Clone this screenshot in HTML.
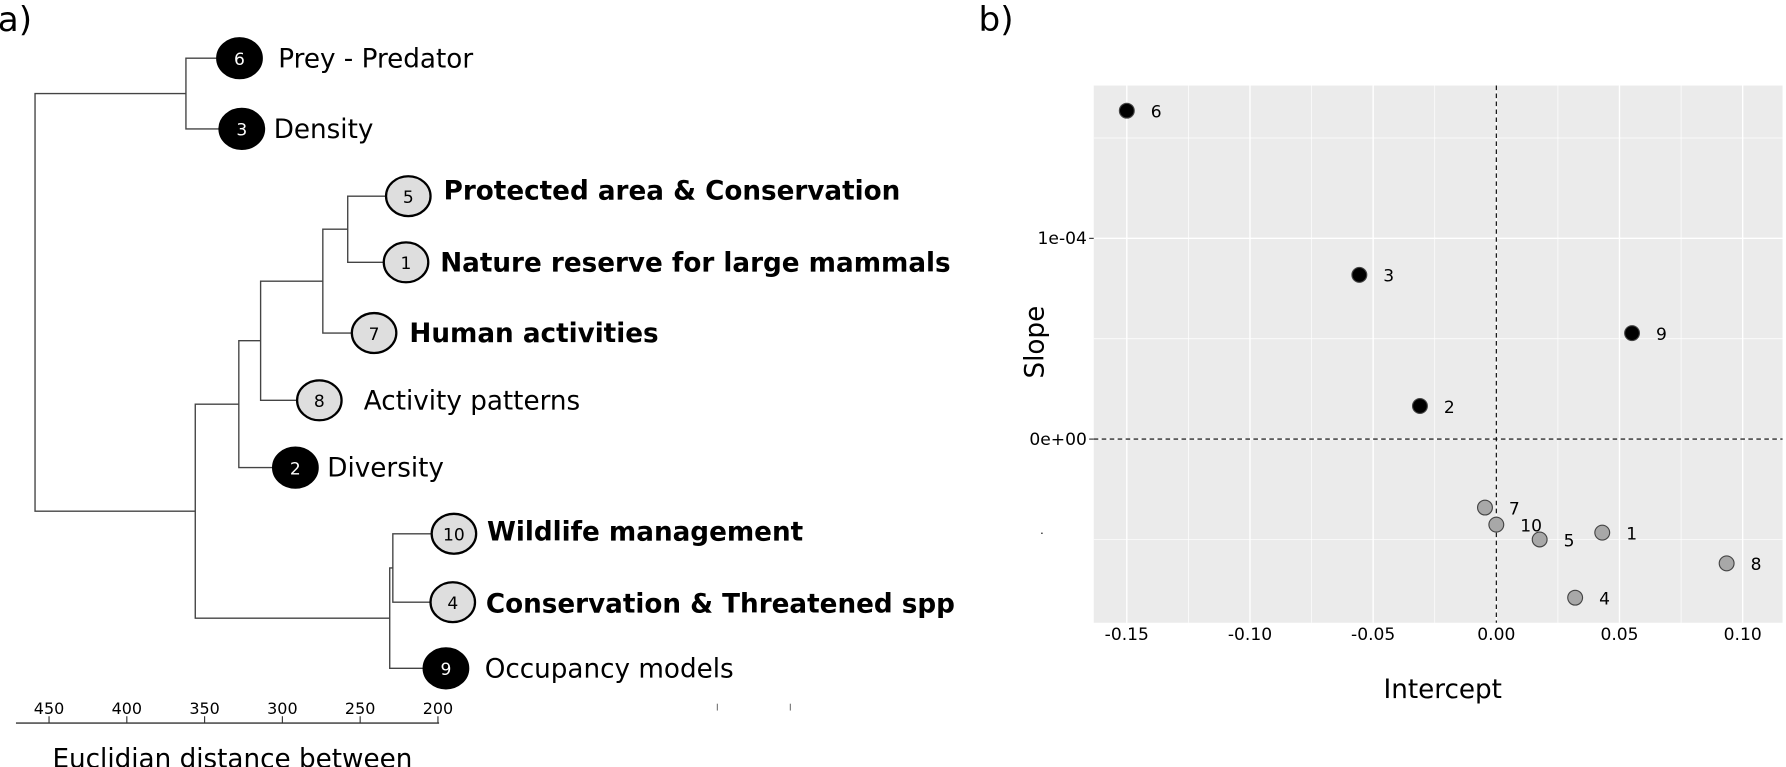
<!DOCTYPE html>
<html><head><meta charset="utf-8"><style>
html,body{margin:0;padding:0;background:#fff;}
svg{display:block;font-family:"DejaVu Sans","Liberation Sans",sans-serif;}
</style></head><body>
<svg id="fig" width="1786" height="767" viewBox="0 0 1566 672.5" preserveAspectRatio="none">
<text x="-2" y="27" font-size="30">a)</text>
<text x="858" y="27" font-size="30">b)</text>
<g id="dendro"></g>
<g id="scatter"></g>
</svg>
<script>
const NS="http://www.w3.org/2000/svg";
// Dendrogram data
const leafIds=["6","3","5","1","7","8","2","10","4","9"];
const leafNames=["Prey - Predator","Density","Protected area & Conservation","Nature reserve for large mammals","Human activities","Activity patterns","Diversity","Wildlife management","Conservation & Threatened spp","Occupancy models"];
const leafBold=[0,0,1,1,1,0,0,1,1,0];
const leafDark=[1,1,0,0,0,0,1,0,0,1];
// merges: [a,b,height] where indexes >=10 refer to earlier merges (10 = first merge)
const merges=[[0,1,362],[2,3,258],[11,4,274],[12,5,314],[13,6,328],[7,8,229],[15,9,231],[14,16,356],[10,17,459]];
const distTicks=[450,400,350,300,250,200];
// Scatter data
const ptIds=["6","3","9","2","7","10","5","1","8","4"];
const ptIntercept=[-0.15,-0.0556,0.0551,-0.031,-0.0046,0.0,0.0176,0.043,0.0935,0.032];
const ptSlope=[1.636e-4,0.818e-4,0.528e-4,0.165e-4,-0.341e-4,-0.426e-4,-0.50e-4,-0.466e-4,-0.619e-4,-0.79e-4];
const ptDark=[1,1,1,1,0,0,0,0,0,0];
const xTicks=[-0.15,-0.10,-0.05,0.00,0.05,0.10];
const xTickLabels=["-0.15","-0.10","-0.05","0.00","0.05","0.10"];
const yTicks=[0,1e-4];
const yTickLabels=["0e+00","1e-04"];

function mk(tag,attrs,parent){const e=document.createElementNS(NS,tag);for(const k in attrs)e.setAttribute(k,attrs[k]);parent.appendChild(e);return e;}

// ---- dendrogram ----
const dg=document.getElementById('dendro');
const leafY=[51,113,172,230,292,351,410,468,528,586];
const leafCx=[210,212,358,356,328,280,259,398,397,391];
const leafTx=[244,240,389,386,359,319,287,427,426,425];
const leafTy=[51,113,167,230,292,351,410,466,529,586];
const dx=h=>384-(h-200)*(341/250);
const nodes=leafIds.map((id,i)=>({x:leafCx[i]-20,y:leafY[i]}));
merges.forEach(m=>{
  const a=nodes[m[0]],b=nodes[m[1]],x=dx(m[2]);
  const p=mk('path',{d:`M${a.x},${a.y}H${x}V${b.y}H${b.x}`,fill:'none',stroke:'#444','stroke-width':1.2},dg);
  
  
  nodes.push({x:x,y:(a.y+b.y)/2});
});
leafIds.forEach((id,i)=>{
  const g=mk('g',{},dg);
  
  
  mk('ellipse',{cx:leafCx[i],cy:leafY[i],rx:19.5,ry:17.5,fill:leafDark[i]?'#000':'#dedede',stroke:'#000','stroke-width':2},g);
  mk('text',{x:leafCx[i],y:leafY[i]+6,'text-anchor':'middle','font-size':15,fill:leafDark[i]?'#fff':'#000'},g).textContent=id;
  const t=mk('text',{x:leafTx[i],y:leafTy[i]+8,'font-size':23,'font-weight':leafBold[i]?'bold':'normal'},g);
  t.textContent=leafNames[i];
});
const ax=mk('g',{},dg);


mk('line',{x1:14,x2:385,y1:634,y2:634,stroke:'#333','stroke-width':1.2},ax);
distTicks.forEach(v=>{
  mk('line',{x1:dx(v),x2:dx(v),y1:628,y2:634,stroke:'#333'},ax);
  mk('text',{x:dx(v),y:626,'text-anchor':'middle','font-size':14},ax).textContent=v;
});
mk('line',{x1:629,x2:629,y1:617,y2:623,stroke:'#777'},ax);
mk('line',{x1:693,x2:693,y1:617,y2:623,stroke:'#777'},ax);
const dt=mk('text',{x:46,y:673,'font-size':23},ax);dt.textContent='Euclidian distance between';


// ---- scatter ----
const sg=document.getElementById('scatter');
const X0=959,X1=1563,Y0=75,Y1=546;
const sx=v=>1312+v*2160;
const sy=v=>385-v*1.76e6;
const bg=mk('rect',{x:X0,y:Y0,width:X1-X0,height:Y1-Y0,fill:'#ebebeb'},sg);

const gr=mk('g',{},sg);
for(let v=-0.175;v<=0.125;v+=0.05){const x=sx(v);if(x>X0&&x<X1)mk('line',{x1:x,x2:x,y1:Y0,y2:Y1,stroke:'#fff','stroke-width':0.6},gr);}
xTicks.forEach(v=>mk('line',{x1:sx(v),x2:sx(v),y1:Y0,y2:Y1,stroke:'#fff','stroke-width':1.2},gr));
[-1.5e-4,-0.5e-4,0.5e-4,1.5e-4].forEach(v=>mk('line',{x1:X0,x2:X1,y1:sy(v),y2:sy(v),stroke:'#fff','stroke-width':0.6},gr));
yTicks.forEach(v=>mk('line',{x1:X0,x2:X1,y1:sy(v),y2:sy(v),stroke:'#fff','stroke-width':1.2},gr));
mk('line',{x1:sx(0),x2:sx(0),y1:Y0,y2:Y1,stroke:'#000','stroke-width':1,'stroke-dasharray':'4,3'},sg);
mk('line',{x1:X0,x2:X1,y1:sy(0),y2:sy(0),stroke:'#000','stroke-width':1,'stroke-dasharray':'4,3'},sg);
xTicks.forEach((v,i)=>{
  const t=mk('text',{x:sx(v),y:561,'text-anchor':'middle','font-size':15},sg);t.textContent=xTickLabels[i];
  
});
yTicks.forEach((v,i)=>{
  mk('line',{x1:X0-4,x2:X0,y1:sy(v),y2:sy(v),stroke:'#333'},sg);
  const t=mk('text',{x:X0-6,y:sy(v)+5,'text-anchor':'end','font-size':15},sg);t.textContent=yTickLabels[i];
  
});
mk('text',{x:912,y:468,'font-size':10},sg).textContent='.';
const xt=mk('text',{x:1265,y:612,'text-anchor':'middle','font-size':23},sg);xt.textContent='Intercept';

const yt=mk('text',{x:0,y:0,'text-anchor':'middle','font-size':23,transform:'translate(915,300) rotate(-90)'},sg);yt.textContent='Slope';

ptIds.forEach((id,i)=>{
  const g=mk('g',{},sg);
  
  
  const cx=sx(ptIntercept[i]),cy=sy(ptSlope[i]);
  mk('circle',{cx:cx,cy:cy,r:6.5,fill:ptDark[i]?'#000':'#a8a8a8',stroke:'#444','stroke-width':1},g);
  mk('text',{x:cx+21,y:cy+6,'font-size':15},g).textContent=id;
});
</script>
</body></html>
